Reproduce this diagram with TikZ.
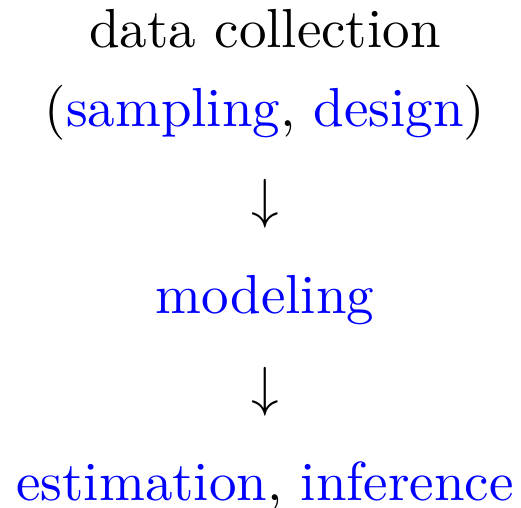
\documentclass[tikz,border=0pt]{standalone}
\usepackage{xcolor}
\begin{document}
% one unit = 1/5.5 pt, y grows downwards
\begin{tikzpicture}[x=0.181818pt, y=-0.181818pt,
  line/.style={anchor=base, inner sep=0pt, outer sep=0pt},
  term/.style={line, text=blue}]
  \useasboundingbox (0,0) rectangle (521,508);
  \node[line] (collect) at (265,48) {data collection};
  \node[line] (detail)  at (265,127) {(\textcolor{blue}{sampling}, \textcolor{blue}{design})};
  \node[line] (arrowA)  at (265,218) {$\downarrow$};
  \node[term] (model)   at (265,314) {modeling};
  \node[line] (arrowB)  at (265,406) {$\downarrow$};
  \node[line] (infer)   at (265,501) {\textcolor{blue}{estimation}, \textcolor{blue}{inference}};
\end{tikzpicture}
\end{document}
